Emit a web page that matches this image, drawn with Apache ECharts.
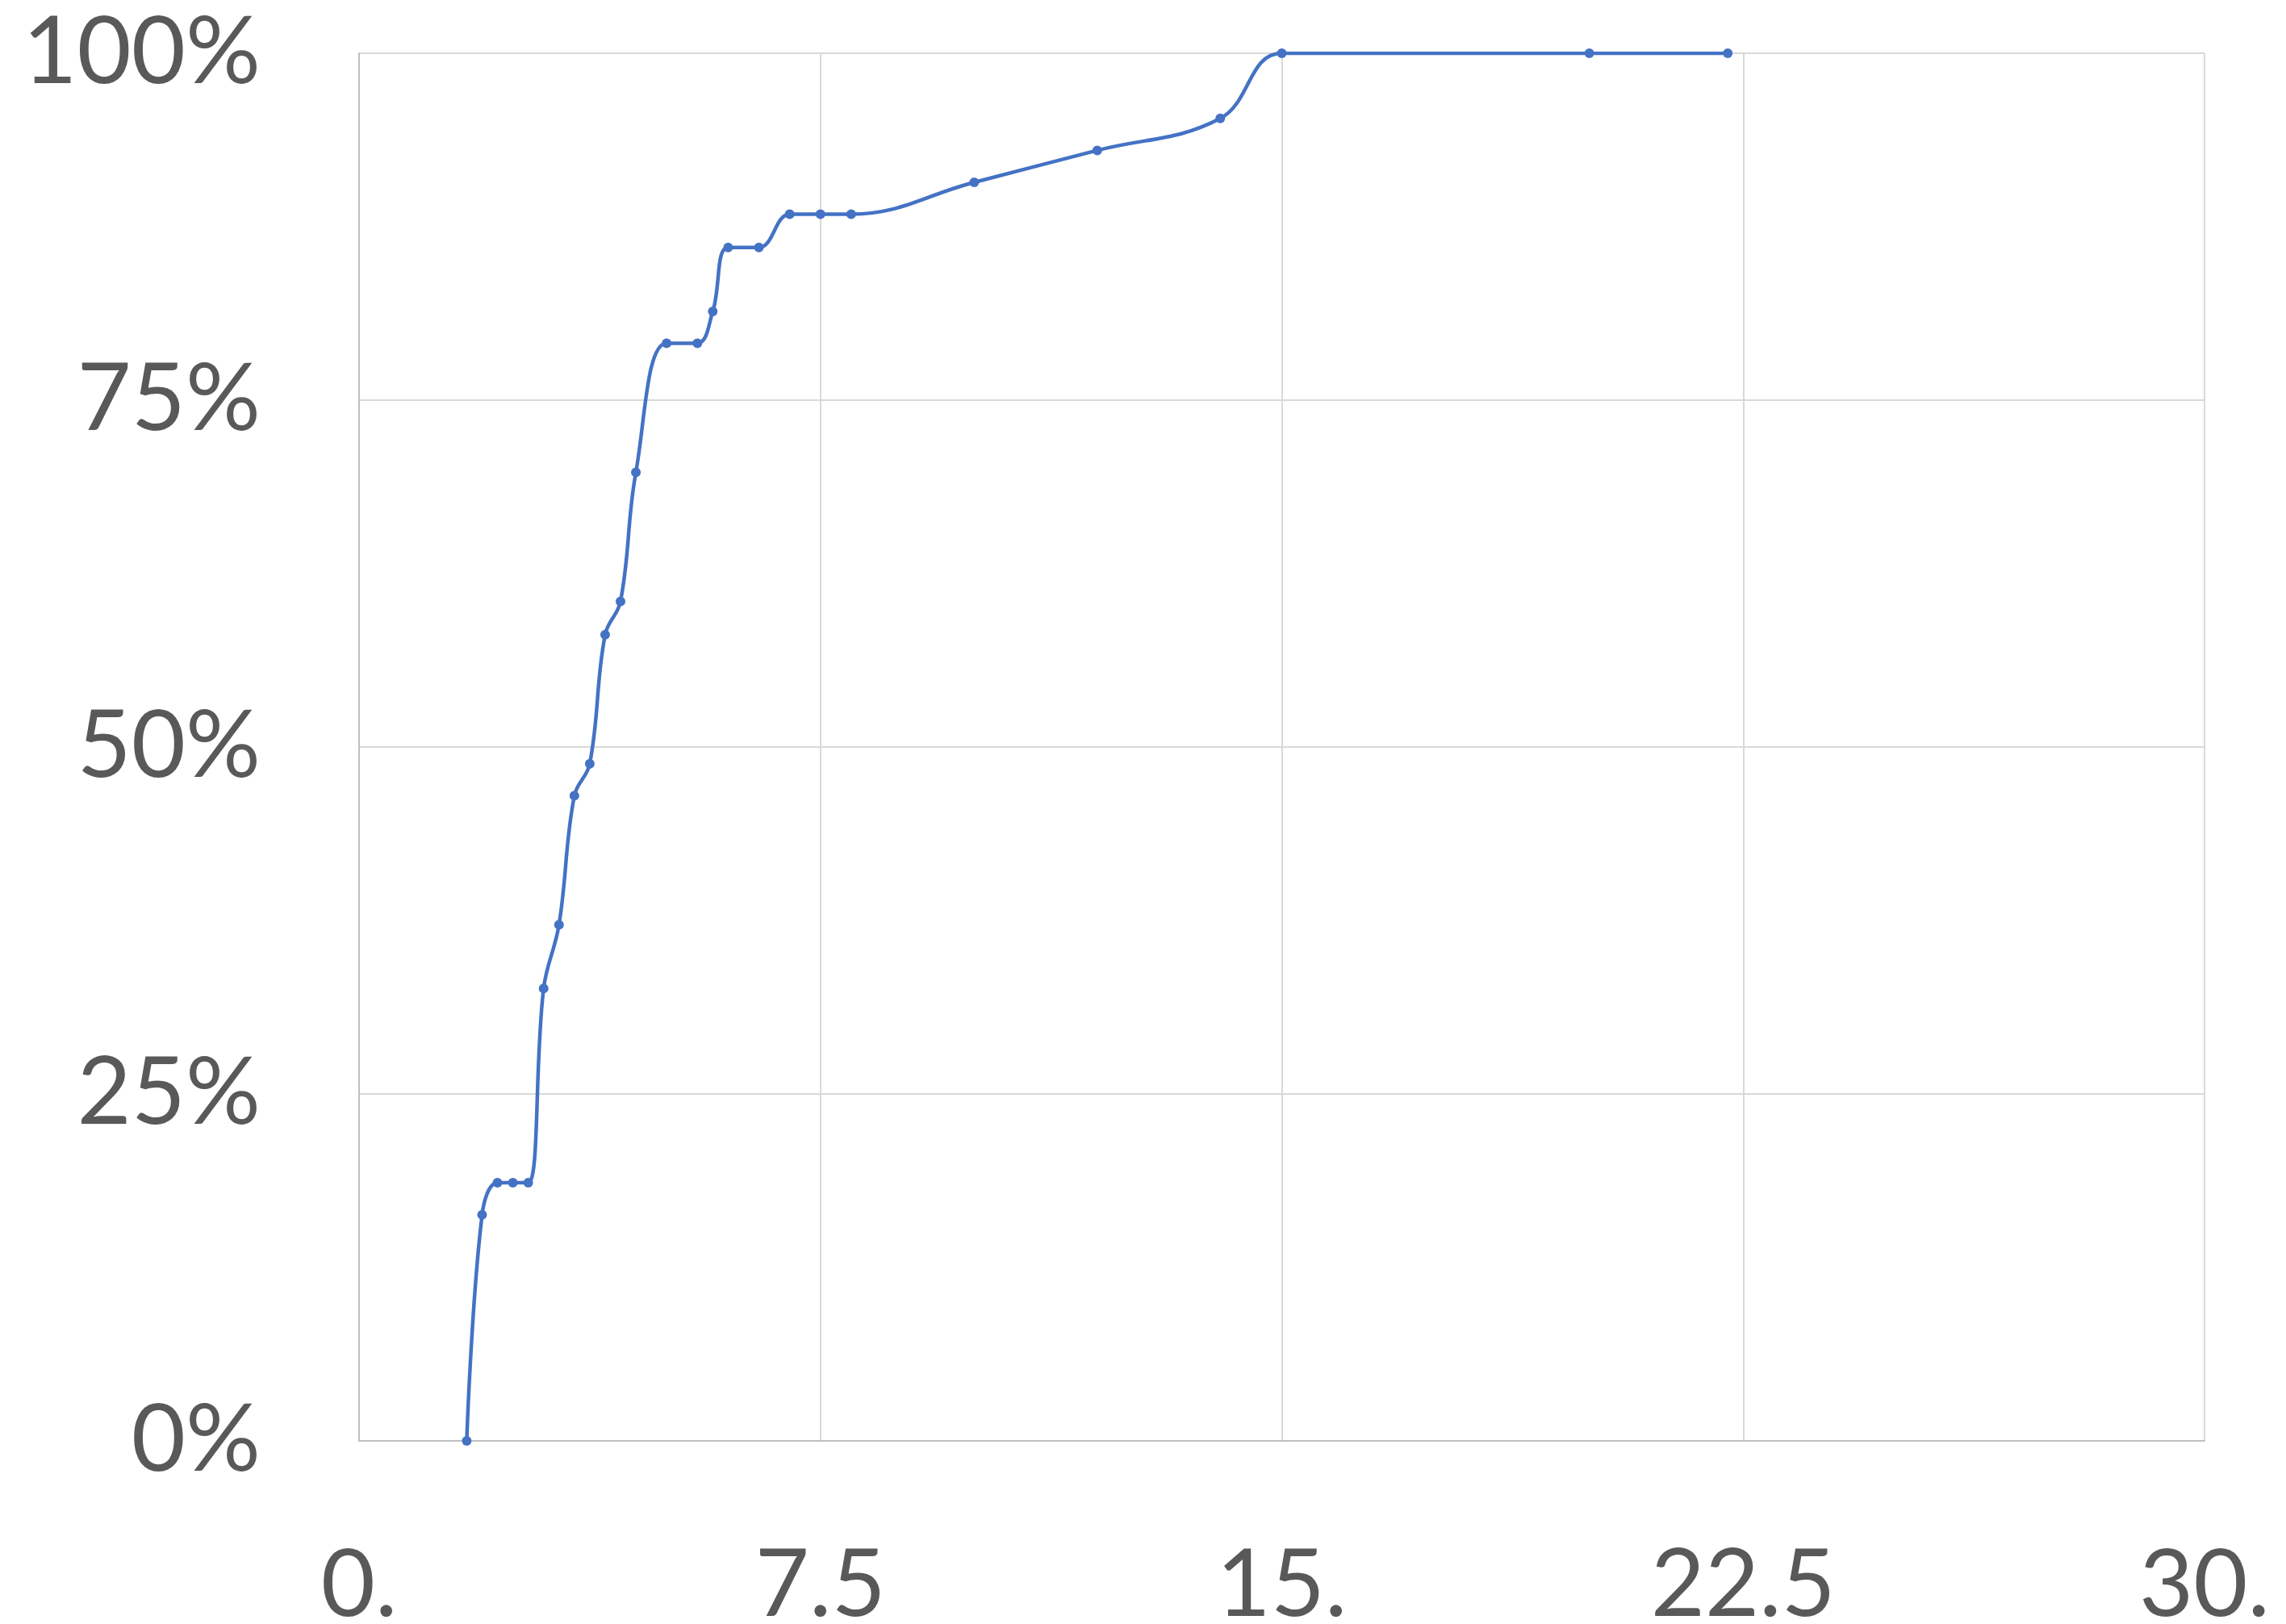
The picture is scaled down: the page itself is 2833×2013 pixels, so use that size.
<!DOCTYPE html>
<html><head><meta charset="utf-8">
<script src="https://cdn.jsdelivr.net/npm/echarts@6/dist/echarts.min.js"></script>
<style>html,body{margin:0;padding:0;background:#fff}#c{width:2833px;height:2013px}</style>
</head><body><div id="c"></div>
<script>
const xValues = [1.75, 2, 2.25, 2.5, 2.75, 3, 3.25, 3.5, 3.75, 4, 4.25, 4.5, 5, 5.5, 5.75, 6, 6.5, 7, 7.5, 8, 10, 12, 14, 15, 20, 22.25];
const yValues = [0, 0.163, 0.186, 0.186, 0.186, 0.326, 0.372, 0.465, 0.488, 0.581, 0.605, 0.698, 0.791, 0.791, 0.814, 0.860, 0.860, 0.884, 0.884, 0.884, 0.907, 0.930, 0.953, 1.0, 1.0, 1.0];
const xTickLabels = {0: '0.', 7.5: '7.5', 15: '15.', 22.5: '22.5', 30: '30.'};
const yTickLabels = {0: '0%', 0.25: '25%', 0.5: '50%', 0.75: '75%', 1: '100%'};

const chart = echarts.init(document.getElementById('c'));
chart.setOption({
  animation: false,
  backgroundColor: '#ffffff',
  grid: {left: 445, right: 101, top: 66, bottom: 227, containLabel: false, outerBoundsMode: 'none'},
  xAxis: {
    type: 'value', min: 0, max: 30, interval: 7.5,
    axisLine: {show: true, lineStyle: {color: '#bfbfbf', width: 2}},
    axisTick: {show: false},
    splitLine: {show: true, lineStyle: {color: '#d9d9d9', width: 2}},
    axisLabel: {color: '#595959', fontFamily: 'Lato', fontSize: 116, margin: 122,
      formatter: v => xTickLabels[v] !== undefined ? xTickLabels[v] : String(v)}
  },
  yAxis: {
    type: 'value', min: 0, max: 1, interval: 0.25,
    axisLine: {show: true, lineStyle: {color: '#bfbfbf', width: 2}},
    axisTick: {show: false},
    splitLine: {show: true, lineStyle: {color: '#d9d9d9', width: 2}},
    axisLabel: {color: '#595959', fontFamily: 'Lato', fontSize: 116, margin: 122,
      formatter: v => yTickLabels[v] !== undefined ? yTickLabels[v] : String(v)}
  },
  series: [{
    type: 'line',
    data: xValues.map((x, i) => [x, yValues[i]]),
    smooth: 0.4,
    symbol: 'circle', symbolSize: 12,
    lineStyle: {color: '#4472C4', width: 4.5},
    itemStyle: {color: '#4472C4'}
  }]
});
</script></body></html>
